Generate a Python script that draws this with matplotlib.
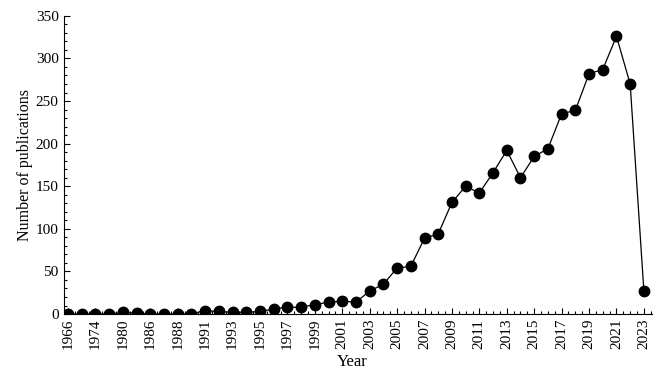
import matplotlib
matplotlib.use("Agg")
import matplotlib.pyplot as plt
from matplotlib.ticker import MultipleLocator

plt.rcParams['font.family'] = ['Liberation Serif', 'DejaVu Serif']

# years shown on the axis (one point per entry, label on every second one)
years = ['1966', '1970', '1974', '1977', '1980', '1983', '1986', '1987',
         '1988', '1990', '1991', '1992', '1993', '1994', '1995', '1996',
         '1997', '1998', '1999', '2000', '2001', '2002', '2003', '2004',
         '2005', '2006', '2007', '2008', '2009', '2010', '2011', '2012',
         '2013', '2014', '2015', '2016', '2017', '2018', '2019', '2020',
         '2021', '2022', '2023']
counts = [0, 0, 0, 0, 2, 1, 0, 0, 0, 0, 4, 3, 2, 2, 3, 6, 8, 8, 11, 14,
          15, 14, 27, 35, 54, 56, 89, 94, 131, 150, 142, 166, 192, 160,
          185, 194, 235, 239, 282, 287, 326, 270, 27]

fig = plt.figure(figsize=(6.65, 3.77), dpi=100)
ax = fig.add_axes([0.0955, 0.167, 0.8845, 0.791])

x = list(range(len(years)))
ax.plot(x, counts, color='black', lw=0.9, marker='o', ms=7.5,
        markerfacecolor='black', markeredgecolor='black')

ax.set_xlim(-0.33, len(years) - 0.43)
ax.set_ylim(0, 350)
ax.set_xticks(x[::2])
ax.set_xticklabels(years[::2], rotation=90, fontsize=11)
ax.xaxis.set_minor_locator(MultipleLocator(0.5))
ax.yaxis.set_major_locator(MultipleLocator(50))
ax.yaxis.set_minor_locator(MultipleLocator(10))
ax.tick_params(axis='y', labelsize=11)
ax.tick_params(which='major', direction='in', length=4, width=0.8)
ax.tick_params(which='minor', direction='in', length=2.5, width=0.8)

for s in ['top', 'right']:
    ax.spines[s].set_visible(False)
for s in ['left', 'bottom']:
    ax.spines[s].set_linewidth(0.8)

ax.set_xlabel('Year', fontsize=12)
ax.xaxis.set_label_coords(0.49, -0.135)
ax.set_ylabel('Number of publications', fontsize=11.5, labelpad=2)

fig.savefig('out.png', dpi=100)
